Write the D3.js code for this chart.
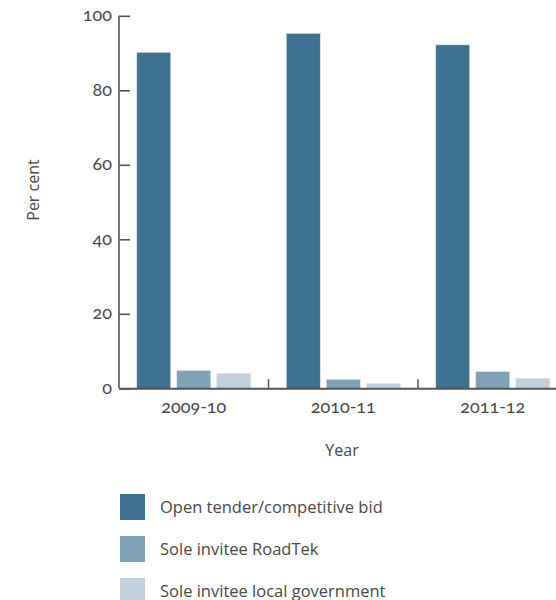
<!DOCTYPE html>
<html>
<head>
<meta charset="utf-8">
<script src="https://d3js.org/d3.v7.min.js"></script>
<style>
  body { margin: 0; background: #fff; }
  svg text { font-family: "Open Sans", Lato, sans-serif; fill: #484848; }
  svg text.tick-label { font-family: Lato, "Open Sans", sans-serif; font-variant-numeric: oldstyle-nums; font-feature-settings: "onum"; }
</style>
</head>
<body>
<svg id="chart" width="556" height="600"></svg>
<script>
  // data
  const years = ["2009-10", "2010-11", "2011-12"];
  const seriesNames = ["Open tender/competitive bid", "Sole invitee RoadTek", "Sole invitee local government"];
  const openTender = [90.2, 95.3, 92.2];
  const roadTek = [4.8, 2.4, 4.5];
  const localGov = [4.0, 1.3, 2.7];
  const yTicks = [0, 20, 40, 60, 80, 100];
  const colors = ["#3f7190", "#7fa1b5", "#c0d1dc"];

  const seriesValues = [openTender, roadTek, localGov];
  const data = years.map((yr, i) => ({
    year: yr,
    values: seriesNames.map((s, j) => ({ name: s, value: seriesValues[j][i] }))
  }));

  const svg = d3.select("#chart");
  const plotLeft = 119, plotBottom = 388.3, plotTop = 15.8;
  const bandW = 149.5;

  const x0 = d3.scaleBand()
    .domain(years)
    .range([plotLeft, plotLeft + bandW * years.length])
    .padding(0);

  const x1 = d3.scaleBand()
    .domain(seriesNames)
    .range([0, x0.bandwidth()])
    .paddingInner(0.15)
    .paddingOuter(0.444);

  const y = d3.scaleLinear().domain([0, 100]).range([plotBottom, plotTop]);

  // bars
  const groups = svg.append("g").selectAll("g")
    .data(data)
    .enter().append("g")
    .attr("transform", d => `translate(${x0(d.year)},0)`);

  groups.selectAll("rect")
    .data(d => d.values)
    .enter().append("rect")
    .attr("x", d => x1(d.name))
    .attr("width", x1.bandwidth())
    .attr("y", d => y(d.value))
    .attr("height", d => y(0) - y(d.value))
    .attr("fill", (d, i) => colors[i])
    .attr("stroke", "#dde6ec")
    .attr("stroke-width", 0.6);

  // y axis
  const yAxis = svg.append("g")
    .attr("transform", `translate(${plotLeft},0)`)
    .call(d3.axisRight(y).tickValues(yTicks).tickSize(11).tickFormat(""));
  yAxis.select(".domain").attr("stroke", "#555").attr("stroke-width", 1.6)
    .attr("d", `M0,${plotTop}V${plotBottom}`);
  yAxis.selectAll(".tick line").attr("stroke", "#555").attr("stroke-width", 1.6);

  svg.append("g").selectAll("text")
    .data(yTicks)
    .enter().append("text")
    .attr("class", "tick-label")
    .attr("x", plotLeft - 7)
    .attr("y", d => y(d))
    .attr("dy", "0.3em")
    .attr("text-anchor", "end")
    .style("font-size", "18px")
    .text(d => d);

  // x axis
  const xAxis = svg.append("g")
    .attr("transform", `translate(0,${plotBottom})`)
    .call(d3.axisBottom(x0).tickSize(0).tickPadding(12));
  xAxis.select(".domain").attr("stroke", "#555").attr("stroke-width", 2);
  xAxis.selectAll(".tick text")
    .attr("class", "tick-label")
    .style("font-size", "18px")
    .attr("fill", "#484848");

  // separators between year groups
  svg.append("g").selectAll("line")
    .data(years.slice(1))
    .enter().append("line")
    .attr("x1", d => x0(d))
    .attr("x2", d => x0(d))
    .attr("y1", plotBottom - 9)
    .attr("y2", plotBottom)
    .attr("stroke", "#555")
    .attr("stroke-width", 1.5);

  // axis titles
  svg.append("text")
    .attr("transform", "translate(33,190) rotate(-90)")
    .attr("text-anchor", "middle")
    .attr("dy", "0.35em")
    .style("font-size", "16px")
    .text("Per cent");

  svg.append("text")
    .attr("x", 342)
    .attr("y", 450)
    .attr("text-anchor", "middle")
    .attr("dy", "0.35em")
    .style("font-size", "16px")
    .text("Year");

  // legend
  const legend = svg.append("g").selectAll("g")
    .data(seriesNames)
    .enter().append("g")
    .attr("transform", (d, i) => `translate(120,${494 + i * 42})`);

  legend.append("rect")
    .attr("width", 25)
    .attr("height", 26)
    .attr("fill", (d, i) => colors[i]);

  legend.append("text")
    .attr("x", 40)
    .attr("y", 13)
    .attr("dy", "0.35em")
    .style("font-size", "16.5px")
    .text(d => d);
</script>
</body>
</html>
